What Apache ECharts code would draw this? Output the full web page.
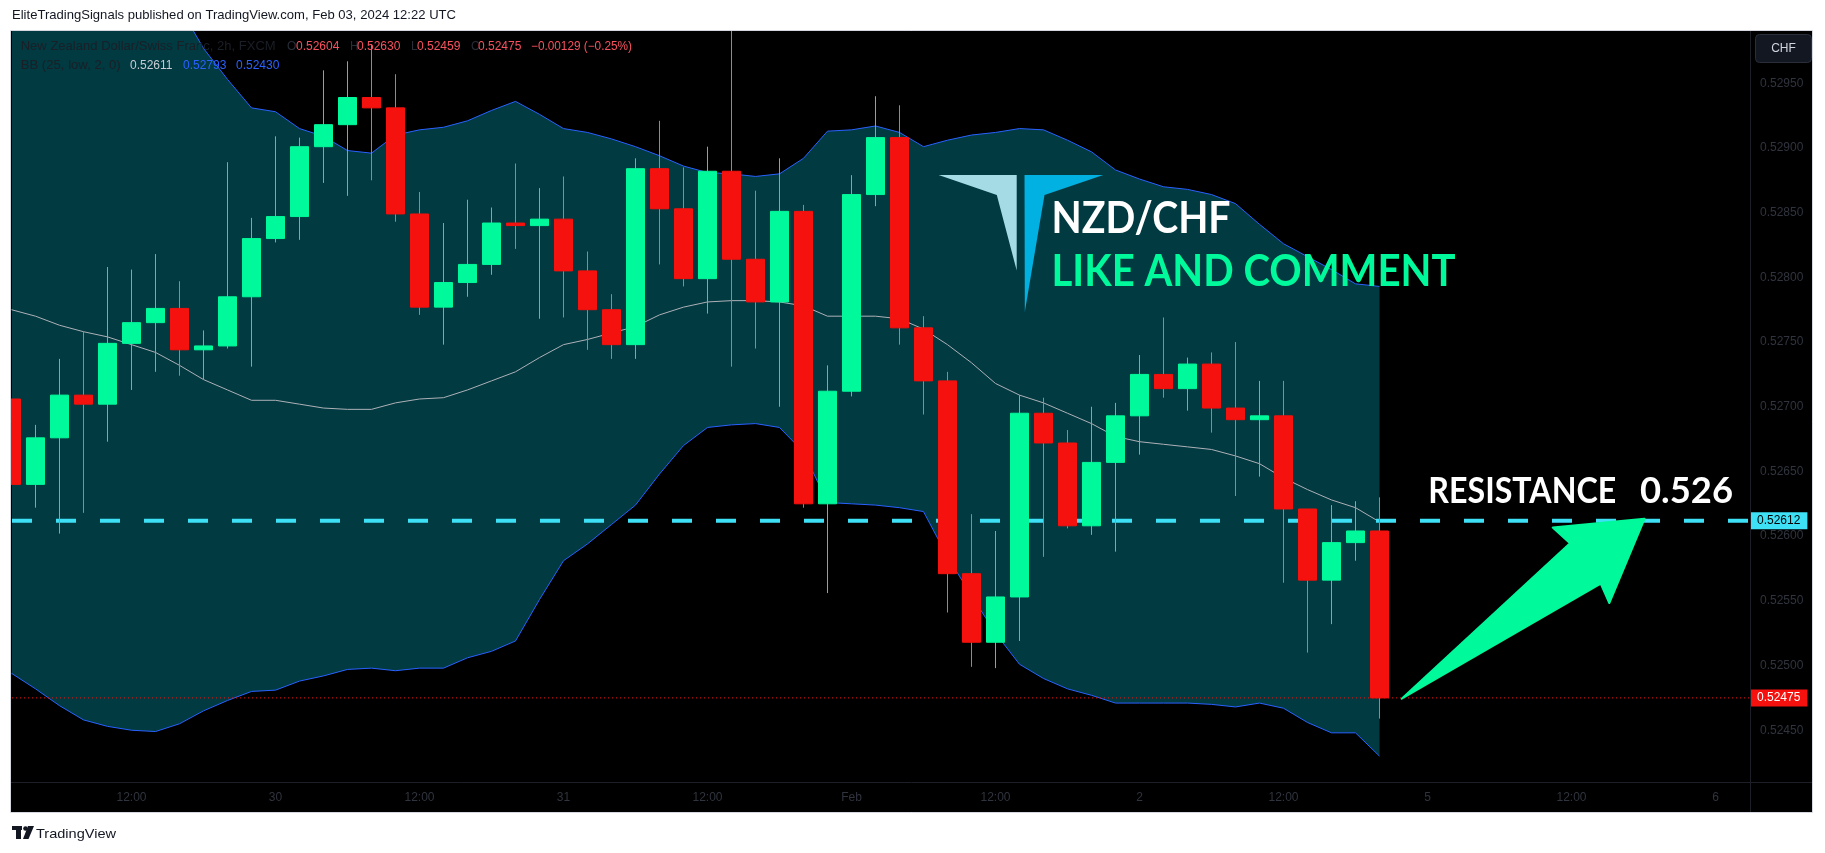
<!DOCTYPE html>
<html><head><meta charset="utf-8">
<script src="https://cdn.jsdelivr.net/npm/echarts@6/dist/echarts.min.js"></script>
<style>html,body{margin:0;padding:0;background:#fff;}#c{width:1825px;height:853px;}</style>
</head><body><div id="c"></div>
<script>
// ---- bar times (2h bars, FXCM) ----
const categories = [
 'Jan 29 02:00','Jan 29 04:00','Jan 29 06:00','Jan 29 08:00','Jan 29 10:00','Jan 29 12:00','Jan 29 14:00','Jan 29 16:00','Jan 29 18:00','Jan 29 20:00','Jan 29 22:00',
 'Jan 30 00:00','Jan 30 02:00','Jan 30 04:00','Jan 30 06:00','Jan 30 08:00','Jan 30 10:00','Jan 30 12:00','Jan 30 14:00','Jan 30 16:00','Jan 30 18:00','Jan 30 20:00','Jan 30 22:00',
 'Jan 31 00:00','Jan 31 02:00','Jan 31 04:00','Jan 31 06:00','Jan 31 08:00','Jan 31 10:00','Jan 31 12:00','Jan 31 14:00','Jan 31 16:00','Jan 31 18:00','Jan 31 20:00','Jan 31 22:00',
 'Feb 1 00:00','Feb 1 02:00','Feb 1 04:00','Feb 1 06:00','Feb 1 08:00','Feb 1 10:00','Feb 1 12:00','Feb 1 14:00','Feb 1 16:00','Feb 1 18:00','Feb 1 20:00','Feb 1 22:00',
 'Feb 2 00:00','Feb 2 02:00','Feb 2 04:00','Feb 2 06:00','Feb 2 08:00','Feb 2 10:00','Feb 2 12:00','Feb 2 14:00','Feb 2 16:00','Feb 2 18:00','Feb 2 20:00',
 'Feb 4 22:00','Feb 5 00:00','Feb 5 02:00','Feb 5 04:00','Feb 5 06:00','Feb 5 08:00','Feb 5 10:00','Feb 5 12:00','Feb 5 14:00','Feb 5 16:00','Feb 5 18:00','Feb 5 20:00','Feb 5 22:00',
 'Feb 6 00:00','Feb 6 02:00'
];
// ---- OHLC ----
const opens  = [0.52706,0.52640,0.52676,0.52709,0.52702,0.52749,0.52765,0.52776,0.52744,0.52747,0.52785,0.52830,0.52847,0.52901,0.52918,0.52939,0.52931,0.52849,0.52777,0.52796,0.52810,0.52842,0.52840,0.52845,0.52805,0.52775,0.52748,0.52884,0.52853,0.52799,0.52882,0.52814,0.52781,0.52851,0.52625,0.52712,0.52864,0.52908,0.52761,0.52720,0.52571,0.52518,0.52553,0.52695,0.52672,0.52608,0.52657,0.52693,0.52725,0.52714,0.52733,0.52699,0.52690,0.52693,0.52621,0.52566,0.52595,0.52604];
const closes = [0.52640,0.52676,0.52709,0.52702,0.52749,0.52765,0.52776,0.52744,0.52747,0.52785,0.52830,0.52847,0.52901,0.52918,0.52939,0.52931,0.52849,0.52777,0.52796,0.52810,0.52842,0.52840,0.52845,0.52805,0.52775,0.52748,0.52884,0.52853,0.52799,0.52882,0.52814,0.52781,0.52851,0.52625,0.52712,0.52864,0.52908,0.52761,0.52720,0.52571,0.52518,0.52553,0.52695,0.52672,0.52608,0.52657,0.52693,0.52725,0.52714,0.52733,0.52699,0.52690,0.52693,0.52621,0.52566,0.52595,0.52604,0.52475];
const highs  = [0.52712,0.52686,0.52737,0.52758,0.52808,0.52806,0.52818,0.52797,0.52759,0.52889,0.52846,0.52909,0.52908,0.52960,0.52967,0.52980,0.52957,0.52866,0.52842,0.52860,0.52854,0.52888,0.52869,0.52878,0.52820,0.52787,0.52892,0.52921,0.52885,0.52901,0.52995,0.52867,0.52892,0.52856,0.52732,0.52879,0.52940,0.52933,0.52770,0.52727,0.52617,0.52604,0.52709,0.52707,0.52682,0.52700,0.52703,0.52740,0.52769,0.52738,0.52742,0.52750,0.52720,0.52720,0.52621,0.52624,0.52627,0.52630];
const lows   = [0.52623,0.52622,0.52602,0.52618,0.52673,0.52713,0.52727,0.52724,0.52721,0.52745,0.52731,0.52827,0.52829,0.52873,0.52863,0.52875,0.52843,0.52771,0.52748,0.52785,0.52802,0.52822,0.52768,0.52769,0.52744,0.52737,0.52737,0.52810,0.52793,0.52772,0.52731,0.52745,0.52700,0.52622,0.52556,0.52708,0.52855,0.52748,0.52694,0.52541,0.52499,0.52498,0.52519,0.52584,0.52606,0.52601,0.52588,0.52663,0.52707,0.52697,0.52680,0.52631,0.52646,0.52564,0.52510,0.52532,0.52581,0.52459];
// ---- Bollinger Bands (25, low, 2) ----
const bbUpper = [0.53056,0.53058,0.53057,0.53058,0.53055,0.53046,0.53035,0.53009,0.52977,0.52953,0.52931,0.52928,0.52915,0.52909,0.52898,0.52896,0.52910,0.52914,0.52916,0.52921,0.52929,0.52936,0.52926,0.52915,0.52912,0.52907,0.52901,0.52894,0.52886,0.52881,0.52880,0.52878,0.52880,0.52892,0.52913,0.52914,0.52917,0.52912,0.52901,0.52906,0.52910,0.52912,0.52915,0.52914,0.52906,0.52897,0.52883,0.52876,0.52870,0.52868,0.52864,0.52857,0.52841,0.52826,0.52816,0.52806,0.52795,0.52793];
const bbBasis = [0.52775,0.52770,0.52763,0.52758,0.52754,0.52748,0.52742,0.52732,0.52721,0.52713,0.52705,0.52705,0.52702,0.52699,0.52698,0.52698,0.52703,0.52706,0.52707,0.52713,0.52720,0.52727,0.52738,0.52748,0.52752,0.52757,0.52762,0.52771,0.52777,0.52781,0.52782,0.52782,0.52781,0.52778,0.52770,0.52770,0.52770,0.52768,0.52760,0.52748,0.52734,0.52718,0.52709,0.52703,0.52695,0.52687,0.52677,0.52673,0.52671,0.52669,0.52667,0.52662,0.52656,0.52645,0.52636,0.52628,0.52622,0.52611];
const bbLower = [0.52494,0.52482,0.52469,0.52458,0.52453,0.52450,0.52449,0.52455,0.52465,0.52473,0.52480,0.52481,0.52488,0.52492,0.52497,0.52498,0.52496,0.52498,0.52498,0.52506,0.52511,0.52519,0.52551,0.52581,0.52594,0.52609,0.52624,0.52648,0.52670,0.52684,0.52686,0.52687,0.52684,0.52665,0.52626,0.52625,0.52624,0.52622,0.52619,0.52584,0.52554,0.52525,0.52501,0.52490,0.52482,0.52477,0.52471,0.52471,0.52471,0.52471,0.52470,0.52468,0.52471,0.52467,0.52456,0.52448,0.52448,0.52430];
// ---- levels & ticks ----
const resistance = 0.52612;
const xTickIndex = [5,11,17,23,29,35,41,47,53,59,65,71];
const xTickText  = ['12:00','30','12:00','31','12:00','Feb','12:00','2','12:00','5','12:00','6'];
const yTicks = [0.5245,0.5250,0.5255,0.5260,0.5265,0.5270,0.5275,0.5280,0.5285,0.5290,0.5295];

const X_MIN = 0.0208, X_MAX = 72.396, Y_MIN = 0.52410, Y_MAX = 0.529904;
const UP = '#00f99a', DOWN = '#f5110d', WICK_UP = '#1fd9a6', WICK_DOWN = '#22b3cf';
const CYAN = '#3ee0f5', BLUE = '#2962ff', DIM = '#2a2e39', AXC = '#30343e', FILL = '#013a41';
const FONT = "'Liberation Sans', Arial, sans-serif";

const idx = opens.map((_, i) => i);
const last = opens.length - 1;

const mctx = document.createElement('canvas').getContext('2d');
function measure(str, font) { mctx.font = font; mctx.textBaseline = 'middle'; return mctx.measureText(str); }
function capText(str, font, left, top, w, fill, z) {
  const m = measure(str, font);
  return { type: 'text', x: left, y: top + m.actualBoundingBoxAscent, scaleX: w / m.width, z: z || 100,
    style: { text: str, font: font, fill: fill, textAlign: 'left', textVerticalAlign: 'middle' } };
}
function lineText(str, left, cy, fill, w, size) {
  const font = (size || 12) + 'px ' + FONT;
  const el = { type: 'text', x: left, y: cy, z: 100,
    style: { text: str, font: font, fill: fill, textAlign: 'left', textVerticalAlign: 'middle' } };
  if (w) el.scaleX = w / measure(str, font).width;
  return el;
}

const chg = closes[last] - closes[last - 1];
const pct = chg / closes[last - 1] * 100;
const sgn = v => (v < 0 ? '\u2212' : '+') + Math.abs(v);

const chart = echarts.init(document.getElementById('c'), null, { renderer: 'canvas' });

const graphics = [
  { type: 'rect', z: -100, shape: { x: 11, y: 31, width: 1801, height: 781 }, style: { fill: '#000' } },
  { type: 'rect', z: 98, shape: { x: 0, y: 31, width: 11, height: 752 }, style: { fill: '#fff' } },
  { type: 'rect', z: 99, shape: { x: 10.5, y: 30.5, width: 1802, height: 782 }, style: { fill: 'none', stroke: '#d4d7de', lineWidth: 1 } },
  { type: 'line', z: 99, shape: { x1: 1750.5, y1: 31, x2: 1750.5, y2: 812 }, style: { stroke: '#1c1f26', lineWidth: 1 } },
  { type: 'line', z: 99, shape: { x1: 11, y1: 782.5, x2: 1812, y2: 782.5 }, style: { stroke: '#1c1f26', lineWidth: 1 } },
  lineText('EliteTradingSignals published on TradingView.com, Feb 03, 2024 12:22 UTC', 12, 15.5, '#131722', 444, 13),
  lineText('New Zealand Dollar/Swiss Franc, 2h, FXCM', 20.7, 46.5, '#1b1f27', 255),
  lineText('O', 287, 46.5, DIM), lineText(opens[last].toFixed(5), 296, 46.5, '#f7525f'),
  lineText('H', 350, 46.5, DIM), lineText(highs[last].toFixed(5), 357, 46.5, '#f7525f'),
  lineText('L', 411, 46.5, DIM), lineText(lows[last].toFixed(5), 417, 46.5, '#f7525f'),
  lineText('C', 471, 46.5, DIM), lineText(closes[last].toFixed(5), 478, 46.5, '#f7525f'),
  lineText(sgn(+chg.toFixed(5)) + ' (' + sgn(+pct.toFixed(2)) + '%)', 531, 46.5, '#f7525f', 101),
  lineText('BB (25, low, 2, 0)', 20.7, 65.6, '#1b1f27', 100),
  lineText(bbBasis[last].toFixed(5), 130, 65.6, '#c9ccd4'),
  lineText(bbUpper[last].toFixed(5), 183, 65.6, BLUE),
  lineText(bbLower[last].toFixed(5), 236, 65.6, BLUE),
  { type: 'rect', z: 100, shape: { x: 1755.5, y: 34.5, width: 56, height: 28, r: 4 }, style: { fill: '#131722', stroke: '#2a2e39', lineWidth: 1 } },
  { type: 'text', z: 101, x: 1783.5, y: 48.5, style: { text: 'CHF', font: '12px ' + FONT, fill: '#d1d4dc', textAlign: 'center', textVerticalAlign: 'middle' } },
  { type: 'polygon', z: 100, shape: { points: [[938.6,174.9],[1016.7,174.9],[1016.7,270.6],[996.8,195]] }, style: { fill: '#a4dbe5' } },
  { type: 'polygon', z: 100, shape: { points: [[1024.5,174.9],[1103.3,174.9],[1044.5,195],[1024.8,312]] }, style: { fill: '#00b1e1' } },
  capText('NZD/CHF', 'bold 43px Lato, sans-serif', 1051.5, 199.8, 179, '#ffffff'),
  capText('LIKE AND COMMENT', 'bold 43px Lato, sans-serif', 1051.5, 254, 404, UP),
  capText('RESISTANCE', 'bold 36px Lato, sans-serif', 1428.3, 477, 188, '#ffffff'),
  capText('0.526', 'bold 36px Lato, sans-serif', 1640, 477, 93, '#ffffff'),
  { type: 'polygon', z: 100, shape: { points: [[1401.7,698.7],[1570,543.2],[1552.7,527.6],[1644.5,518.8],[1609.3,603],[1600.7,583.6]] },
    style: { fill: UP, stroke: UP, lineWidth: 2, lineJoin: 'round' } },
  { type: 'rect', z: 100, shape: { x: 12, y: 826, width: 10, height: 4 }, style: { fill: '#131722' } },
  { type: 'rect', z: 100, shape: { x: 16, y: 826, width: 5, height: 13 }, style: { fill: '#131722' } },
  { type: 'circle', z: 100, shape: { cx: 25.5, cy: 828.5, r: 2.3 }, style: { fill: '#131722' } },
  { type: 'polygon', z: 100, shape: { points: [[28,826],[34,826],[28.5,839],[23,839]] }, style: { fill: '#131722' } },
  lineText('TradingView', 36, 834, '#131722', 80, 13)
];

const option = {
  animation: false,
  backgroundColor: '#ffffff',
  grid: { left: 12, right: 76, top: 31, bottom: 71, show: false },
  xAxis: {
    type: 'value', min: X_MIN, max: X_MAX,
    axisLine: { show: false }, axisTick: { show: false }, splitLine: { show: false },
    axisLabel: { customValues: xTickIndex, formatter: v => xTickText[xTickIndex.indexOf(Math.round(v))] || '',
      color: AXC, fontSize: 12, fontFamily: FONT, margin: 10 }
  },
  yAxis: {
    type: 'value', position: 'right', min: Y_MIN, max: Y_MAX, scale: true,
    axisLine: { show: false }, axisTick: { show: false }, splitLine: { show: false },
    axisLabel: { customValues: yTicks, formatter: v => v.toFixed(5), color: AXC, fontSize: 12, fontFamily: FONT, margin: 11 }
  },
  series: [
    { type: 'custom', name: 'bbFill', clip: true, silent: true, z: 1,
      data: [[0, bbLower[0]]], encode: { x: 0, y: 1 },
      renderItem: (params, api) => {
        const pts = [];
        for (let i = 0; i <= last; i++) pts.push(api.coord([i, bbUpper[i]]));
        for (let i = last; i >= 0; i--) pts.push(api.coord([i, bbLower[i]]));
        return { type: 'polygon', shape: { points: pts }, style: { fill: FILL } };
      } },
    { type: 'line', name: 'upper', symbol: 'none', silent: true, z: 2, data: idx.map(i => [i, bbUpper[i]]), lineStyle: { color: BLUE, width: 1 } },
    { type: 'line', name: 'lower', symbol: 'none', silent: true, z: 2, data: idx.map(i => [i, bbLower[i]]), lineStyle: { color: BLUE, width: 1 } },
    { type: 'line', name: 'basis', symbol: 'none', silent: true, z: 2, data: idx.map(i => [i, bbBasis[i]]), lineStyle: { color: '#aeb1b8', width: 1 } },
    { type: 'line', name: 'resistance', symbol: 'none', silent: true, z: 3,
      data: [[X_MIN, resistance], [X_MAX, resistance]], lineStyle: { color: CYAN, width: 4, type: [20, 24] },
      endLabel: { show: true, formatter: resistance.toFixed(5), color: '#000', backgroundColor: CYAN, padding: [3, 7, 2, 7],
        fontSize: 12, fontFamily: FONT, distance: 1 } },
    { type: 'line', name: 'lastPrice', symbol: 'none', silent: true, z: 3,
      data: [[X_MIN, closes[last]], [X_MAX, closes[last]]], lineStyle: { color: DOWN, width: 1, type: [1, 3] },
      endLabel: { show: true, formatter: closes[last].toFixed(5), color: '#fff', backgroundColor: DOWN, padding: [3, 7, 2, 7],
        fontSize: 12, fontFamily: FONT, distance: 1 } },
    { type: 'custom', name: 'wicks', clip: true, silent: true, z: 4,
      data: idx.map(i => [i, lows[i], highs[i], closes[i] >= opens[i] ? 1 : 0]),
      encode: { x: 0, y: [1, 2] },
      renderItem: (params, api) => {
        const x = api.value(0);
        const lo = api.coord([x, api.value(1)]);
        const hi = api.coord([x, api.value(2)]);
        const px = Math.floor(lo[0]) + 0.5;
        return { type: 'line', shape: { x1: px, y1: lo[1], x2: px, y2: hi[1] },
          style: { stroke: api.value(3) ? WICK_UP : WICK_DOWN, lineWidth: 1 } };
      } },
    { type: 'candlestick', name: 'NZDCHF', silent: true, z: 5, barWidth: 18,
      data: idx.map(i => [i, opens[i], closes[i], Math.min(opens[i], closes[i]), Math.max(opens[i], closes[i])]),
      encode: { x: 0, y: [1, 2, 3, 4] },
      itemStyle: { color: UP, color0: DOWN, borderColor: UP, borderColor0: DOWN, borderWidth: 1 } }
  ],
  graphic: graphics
};
chart.setOption(option);
</script></body></html>
